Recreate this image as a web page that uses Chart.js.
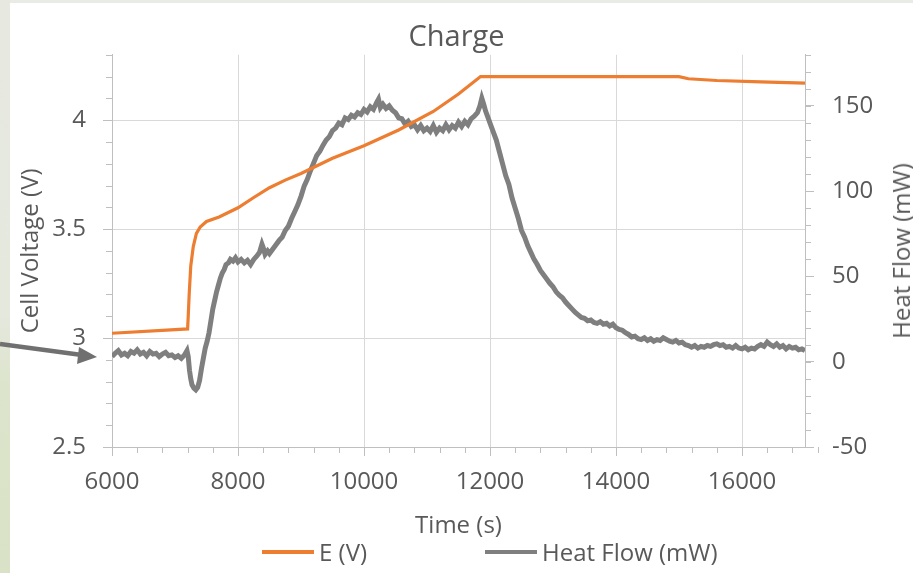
<!DOCTYPE html>
<html>
<head>
<meta charset="utf-8">
<script src="https://cdn.jsdelivr.net/npm/chart.js@4.4.1/dist/chart.umd.min.js"></script>
<style>
    html, body { margin: 0; padding: 0; }
    body {
        width: 913px; height: 573px; overflow: hidden; position: relative;
        background: #e9ebe5;
        font-family: "Open Sans", sans-serif;
    }
    #strip {
        position: absolute; left: 0; top: 0; width: 10px; height: 573px;
        background: linear-gradient(to bottom, #e7e9e1 0%, #e5e8dd 55%, #dce4cb 68%, #d9e2c6 100%);
    }
    #panel { position: absolute; left: 10px; top: 3px; right: 0; bottom: 0; background: #fff; }
    #wrap { position: absolute; left: 0; top: 0; width: 913px; height: 573px; }
    #arrow { position: absolute; left: 0; top: 0; }
    .legend { position: absolute; top: 536px; height: 32px; color: #595959; font-size: 24px; line-height: 32px; }
    .legend span.line { position: absolute; top: 14px; width: 52px; height: 4px; }
    .legend span.txt { position: absolute; left: 57px; white-space: nowrap; }
    #rightTitle {
        position: absolute; left: 901px; top: 251px; width: 0; height: 0;
        color: #595959; font-size: 24px; line-height: 24px;
    }
    #rightTitle span {
        position: absolute; left: 0; top: 0; white-space: nowrap;
        transform: translate(-50%, -50%) rotate(-90deg);
    }
</style>
</head>
<body>
<div id="strip"></div>
<div id="panel"></div>
<div id="wrap"><canvas id="chargeChart" width="913" height="573"></canvas></div>
<svg id="arrow" width="120" height="573">
    <line x1="0" y1="344" x2="82" y2="355" stroke="#707070" stroke-width="4.5"/>
    <polygon points="97,357 79,347 77,364" fill="#707070"/>
</svg>
<div id="rightTitle"><span>Heat Flow (mW)</span></div>
<div class="legend" style="left:262px"><span class="line" style="background:#ED7D31"></span><span class="txt">E (V)</span></div>
<div class="legend" style="left:485px"><span class="line" style="background:#7F7F7F"></span><span class="txt">Heat Flow (mW)</span></div>

<script>
// Voltage trace (E)
const timeE = [6000, 7200, 7210, 7225, 7250, 7290, 7340, 7400, 7500, 7700, 8000, 8250, 8500, 8750,
    9000, 9500, 10000, 10550, 11100, 11500, 11850, 15000, 15150, 15600, 16300, 17000];
const voltE = [3.022, 3.042, 3.10, 3.20, 3.33, 3.42, 3.48, 3.51, 3.535, 3.556, 3.598, 3.645, 3.69, 3.725,
    3.755, 3.825, 3.883, 3.955, 4.04, 4.12, 4.20, 4.20, 4.19, 4.182, 4.176, 4.17];

// Heat flow trace
const timeH = [6000, 6050, 6100, 6150, 6200, 6250, 6300, 6350, 6400, 6450, 6500, 6550, 6600, 6650, 6700, 6750,
    6800, 6850, 6900, 6950, 7000, 7050, 7100, 7150, 7190, 7210, 7230, 7250, 7270, 7300, 7330, 7360, 7390,
    7420, 7450, 7480, 7510, 7540, 7570, 7600, 7630, 7660, 7690, 7720, 7750, 7780, 7810, 7850, 7880, 7920,
    7960, 8000, 8050, 8100, 8150, 8200, 8250, 8300, 8340, 8380, 8400, 8430, 8470, 8500, 8550, 8600, 8650,
    8700, 8750, 8800, 8850, 8900, 8950, 9000, 9050, 9100, 9150, 9200, 9250, 9300, 9350, 9400, 9450, 9500,
    9550, 9600, 9650, 9700, 9750, 9800, 9850, 9900, 9950, 10000, 10050, 10100, 10150, 10200, 10230, 10260,
    10300, 10350, 10400, 10450, 10500, 10550, 10600, 10650, 10700, 10750, 10800, 10850, 10900, 10950,
    11000, 11050, 11100, 11150, 11200, 11250, 11300, 11350, 11400, 11450, 11500, 11550, 11600, 11650,
    11700, 11750, 11800, 11840, 11870, 11900, 11930, 11960, 12000, 12050, 12100, 12150, 12200, 12250,
    12300, 12350, 12400, 12450, 12500, 12550, 12600, 12650, 12700, 12750, 12800, 12850, 12900, 12950,
    13000, 13050, 13100, 13150, 13200, 13250, 13300, 13350, 13400, 13450, 13500, 13550, 13600, 13650,
    13700, 13750, 13800, 13850, 13900, 13950, 14000, 14050, 14100, 14150, 14200, 14250, 14300, 14350,
    14400, 14450, 14500, 14550, 14600, 14650, 14700, 14750, 14800, 14850, 14900, 14950, 15000, 15050,
    15100, 15150, 15200, 15250, 15300, 15350, 15400, 15450, 15500, 15550, 15600, 15650, 15700, 15750,
    15800, 15850, 15900, 15950, 16000, 16050, 16100, 16150, 16200, 16250, 16300, 16350, 16400, 16450,
    16500, 16550, 16600, 16650, 16700, 16750, 16800, 16850, 16900, 16950, 17000];
const heatH = [3, 5, 6.5, 4, 5, 3.5, 6, 5, 7, 4.5, 5.5, 3.5, 6, 4.5, 5, 3,
    4.5, 5.5, 3.5, 4, 2.5, 3.5, 2, 4, 6.5, 3, -5, -10, -13.5, -15.5, -16.5, -15, -11,
    -4, 2, 8, 12, 17, 24, 31, 36, 41, 45, 49, 52, 54, 57, 58, 60, 59,
    61, 58.5, 60, 58, 59.5, 57, 60, 62, 64, 69, 67, 63, 65, 63.5, 66, 68.5, 71,
    73, 77, 79.5, 84, 88, 92, 97, 103, 107, 112, 116.5, 121, 123.5, 127, 130, 132, 135.5,
    137, 140, 139, 143, 142, 144.5, 143.5, 146, 145, 148, 146.5, 149.5, 148, 152, 154, 149,
    151, 148.5, 150, 147.5, 146, 143, 142.5, 139.5, 141, 138, 139, 136, 138.5, 135.5,
    137, 135, 138.5, 134.5, 137, 135.5, 139, 136, 138.5, 137, 140.5, 138, 141, 139,
    142.5, 144, 146, 150, 154.5, 151, 147, 144, 140, 135, 130, 123, 116, 109,
    104, 96, 90, 84, 77, 73, 68, 64, 60, 57, 53.5, 51, 48.5, 46,
    44, 41, 39, 37.5, 35, 33, 31, 29, 27.5, 26, 25.5, 24, 24.5, 23,
    22.5, 23.5, 22, 22.5, 21, 22, 20, 19, 18.5, 17, 16, 14.5, 15, 13.5,
    13, 14, 12.5, 13.5, 12, 13, 12.5, 14, 13, 12, 11.5, 12.5, 11, 11.5,
    10, 9.5, 8.5, 9.5, 8, 9, 8.5, 9.5, 9, 10, 10.5, 9.5, 10, 8.5,
    9, 8, 9.5, 8, 7.5, 8.5, 7, 8, 7.5, 9, 10, 9, 11.5, 10,
    9, 10.5, 8.5, 9.5, 7.5, 9, 8, 8.5, 7, 7.5, 6.5];

// Axis ranges and tick labels
const xRange = [6000, 17000];
const xTicks = [6000, 8000, 10000, 12000, 14000, 16000];
const xMinorStep = 400;
const vRange = [2.5, 4.3];
const vTicks = [2.5, 3, 3.5, 4];
const vMinorStep = 0.1;
const hRange = [-50, 180];
const hTicks = [-50, 0, 50, 100, 150];
const hMinorStep = 10;

const FONT = '"Open Sans", sans-serif';
const TEXT = '#595959';
const AXIS = '#bfbfbf';
const GRID = '#d9d9d9';

function steps(lo, hi, step) {
    const out = [];
    const n = Math.round((hi - lo) / step);
    for (let i = 0; i <= n; i++) out.push(lo + i * step);
    return out;
}

// Short minor tick marks, placed through each scale
const minorTicks = {
    id: 'minorTicks',
    afterDraw(chart) {
        const ctx = chart.ctx;
        const sx = chart.scales.x, sv = chart.scales.yV, sh = chart.scales.yH;
        const area = chart.chartArea;
        ctx.save();
        ctx.strokeStyle = AXIS;
        ctx.lineWidth = 1;
        ctx.beginPath();
        steps(xRange[0], xRange[1], xMinorStep).forEach(v => {
            const p = Math.round(sx.getPixelForValue(v)) + 0.5;
            ctx.moveTo(p, area.bottom); ctx.lineTo(p, area.bottom + 6);
        });
        steps(vRange[0], vRange[1], vMinorStep).forEach(v => {
            const p = Math.round(sv.getPixelForValue(v)) + 0.5;
            ctx.moveTo(area.left, p); ctx.lineTo(area.left - 6, p);
        });
        steps(hRange[0], hRange[1], hMinorStep).forEach(v => {
            const p = Math.round(sh.getPixelForValue(v)) + 0.5;
            ctx.moveTo(area.right, p); ctx.lineTo(area.right + 6, p);
        });
        ctx.stroke();
        ctx.restore();
    }
};

function initChart() {
    const ctx = document.getElementById('chargeChart').getContext('2d');
    new Chart(ctx, {
        type: 'line',
        data: {
            datasets: [{
                label: 'E (V)',
                data: timeE.map((t, i) => ({ x: t, y: voltE[i] })),
                yAxisID: 'yV',
                borderColor: '#ED7D31',
                borderWidth: 3.2,
                pointRadius: 0,
                order: 0
            }, {
                label: 'Heat Flow (mW)',
                data: timeH.map((t, i) => ({ x: t, y: heatH[i] })),
                yAxisID: 'yH',
                borderColor: '#7F7F7F',
                borderWidth: 5,
                pointRadius: 0,
                order: 1
            }]
        },
        options: {
            responsive: false,
            animation: false,
            layout: { padding: { left: 0, right: 0, top: 0, bottom: 32 } },
            plugins: {
                legend: { display: false },
                tooltip: { enabled: false },
                title: {
                    display: true,
                    text: 'Charge',
                    color: TEXT,
                    font: { family: FONT, size: 29, weight: 'normal', lineHeight: 1.2 },
                    padding: { top: 20, bottom: 0 }
                }
            },
            scales: {
                x: {
                    type: 'linear',
                    min: xRange[0], max: xRange[1],
                    afterBuildTicks: s => { s.ticks = xTicks.map(v => ({ value: v })); },
                    afterFit: s => { s.height = 94; },
                    border: { color: AXIS },
                    grid: {
                        color: c => c.tick && c.tick.value === xRange[0] ? 'rgba(0,0,0,0)' : GRID,
                        tickColor: AXIS, tickLength: 9
                    },
                    ticks: {
                        color: TEXT, padding: 12, maxRotation: 0,
                        font: { family: FONT, size: 24, lineHeight: 1.2 },
                        callback: v => String(v)
                    },
                    title: {
                        display: true, text: 'Time (s)', color: TEXT,
                        font: { family: FONT, size: 24, lineHeight: 1.2 },
                        padding: { top: 0, bottom: 0 }
                    }
                },
                yV: {
                    position: 'left',
                    min: vRange[0], max: vRange[1],
                    afterBuildTicks: s => { s.ticks = vTicks.map(v => ({ value: v })); },
                    afterFit: s => { s.width = 112; },
                    border: { color: AXIS },
                    grid: {
                        color: c => c.tick && c.tick.value === vRange[0] ? 'rgba(0,0,0,0)' : GRID,
                        tickColor: AXIS, tickLength: 9
                    },
                    ticks: {
                        color: TEXT, padding: 17,
                        font: { family: FONT, size: 24, lineHeight: 1.2 },
                        callback: v => String(v)
                    },
                    title: {
                        display: true, text: 'Cell Voltage (V)', color: TEXT,
                        font: { family: FONT, size: 24, lineHeight: 1.2 },
                        padding: { top: 17, bottom: 0 }
                    }
                },
                yH: {
                    position: 'right',
                    min: hRange[0], max: hRange[1],
                    afterBuildTicks: s => { s.ticks = hTicks.map(v => ({ value: v })); },
                    afterFit: s => { s.width = 108; },
                    border: { color: AXIS },
                    grid: { drawOnChartArea: false, tickColor: AXIS, tickLength: 9 },
                    ticks: {
                        color: TEXT, padding: 18,
                        font: { family: FONT, size: 24, lineHeight: 1.2 },
                        callback: v => String(v)
                    },
                    title: { display: false }
                }
            }
        },
        plugins: [minorTicks]
    });
}

document.addEventListener('DOMContentLoaded', initChart);
</script>
</body>
</html>
